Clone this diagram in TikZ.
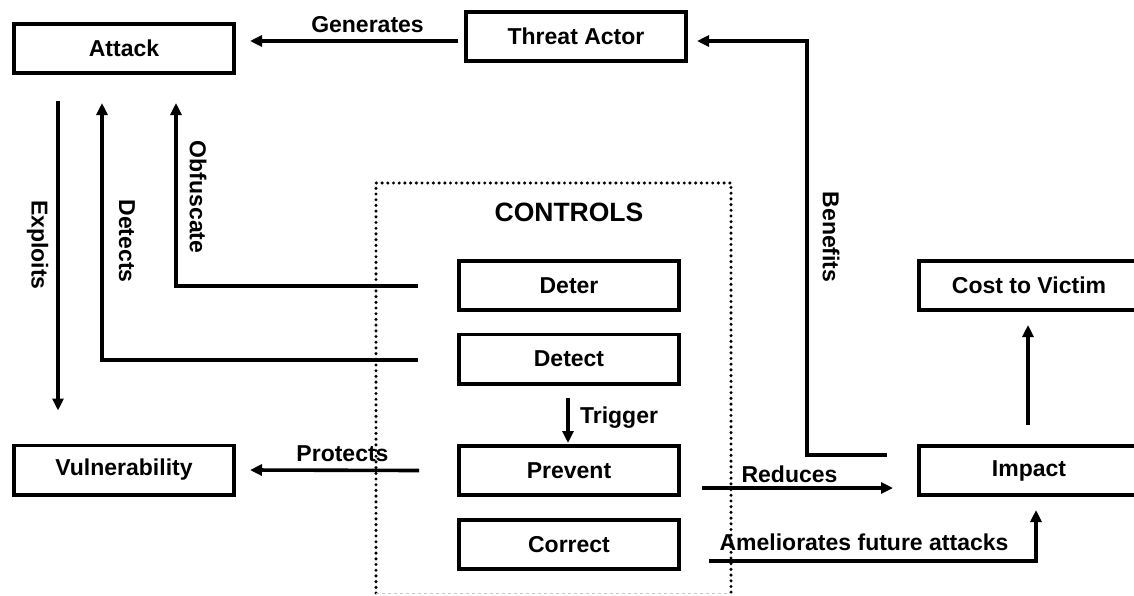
\documentclass[tikz,border=0pt]{standalone}
\usepackage{fontspec}
\setmainfont{Liberation Sans}
\usetikzlibrary{arrows.meta}

\tikzset{
  box/.style={draw, line width=3.6pt, minimum width=220.4pt, minimum height=49.4pt,
              inner sep=0pt, font=\fontsize{23}{27}\selectfont\bfseries},
  lbl/.style={inner sep=0pt, font=\fontsize{23}{27}\selectfont\bfseries},
  vlbl/.style={lbl, rotate=-90},
  arr/.style={line width=3.6pt, -{Triangle[length=12pt,width=11pt]}},
  dotframe/.style={line width=3.4pt, line cap=round, dash pattern=on 0pt off 5.7pt},
}

\begin{document}
\begin{tikzpicture}[x=1pt,y=-1pt]
\useasboundingbox (0,0) rectangle (1134,595);
\clip (0,0) rectangle (1134,595);

% controls frame (dotted)
\draw[dotframe] (376,593) -- (376,183) -- (731,183) -- (731,593);
\draw[gray!45, line width=1pt, dash pattern=on 3pt off 3pt] (376,593) -- (731,593);
\node[lbl, font=\fontsize{26.5}{30}\selectfont\bfseries] (ctl) at (569,212.5) {CONTROLS};

% boxes
\node[box] (attack)  at (124,48.5)  {Attack};
\node[box] (actor)   at (576,36.5)  {Threat Actor};
\node[box] (vuln)    at (124,470)   {Vulnerability};
\node[box] (deter)   at (569,285.5) {Deter};
\node[box] (detect)  at (569,359)   {Detect};
\node[box] (prevent) at (569,470.5) {Prevent};
\node[box] (correct) at (569,544.5) {Correct};
\node[box] (cost)    at (1029,285.5){Cost to Victim};
\node[box] (impact)  at (1029,470.5){Impact};

% connectors
\draw[arr] ([shift={(-6,4.5)}]actor.west) -- ([shift={(14,-7.5)}]attack.east);
\coordinate (bencorner) at (807,41);
\draw[arr] ([shift={(-30,-15.5)}]impact.west) -| (bencorner) -- ([shift={(9,4.5)}]actor.east);
\draw[arr] ([shift={(-1,-19)}]impact.north) -- ([shift={(-1,13)}]cost.south);
\draw[arr] ([shift={(21,17.5)}]prevent.east) -- ([shift={(-24,17.5)}]impact.west);
\draw[arr] ([shift={(28,16.5)}]correct.east) -| ([shift={(7,13)}]impact.south);
\draw[arr] ([shift={(-38,0)}]prevent.west) -- ([shift={(14,0)}]vuln.east);
\draw[arr] ([shift={(-1,12)}]detect.south) -- ([shift={(-1,-1)}]prevent.north);
\draw[arr] ([shift={(-39,1)}]detect.west) -| ([shift={(-22,28)}]attack.south);
\draw[arr] ([shift={(-39,0.5)}]deter.west) -| ([shift={(52,28)}]attack.south);
\draw[arr] ([shift={(-66,26)}]attack.south) -- ([shift={(-66,-33)}]vuln.north);

% connector labels
\node[lbl]  (lgen)  at (367.5,25)  {Generates};
\node[vlbl] (lexp)  at (37.5,245)  {Exploits};
\node[vlbl] (ldet)  at (127,241)   {Detects};
\node[vlbl] (lobf)  at (198,197)   {Obfuscate};
\node[vlbl] (lben)  at (831,237)   {Benefits};
\node[lbl]  (ltrig) at (619,417.5) {Trigger};
\node[lbl]  (lprot) at (342.5,453.5) {Protects};
\node[lbl]  (lred)  at (789.5,474.5) {Reduces};
\node[lbl]  (lame)  at (864,542)   {Ameliorates future attacks};
\end{tikzpicture}
\end{document}
